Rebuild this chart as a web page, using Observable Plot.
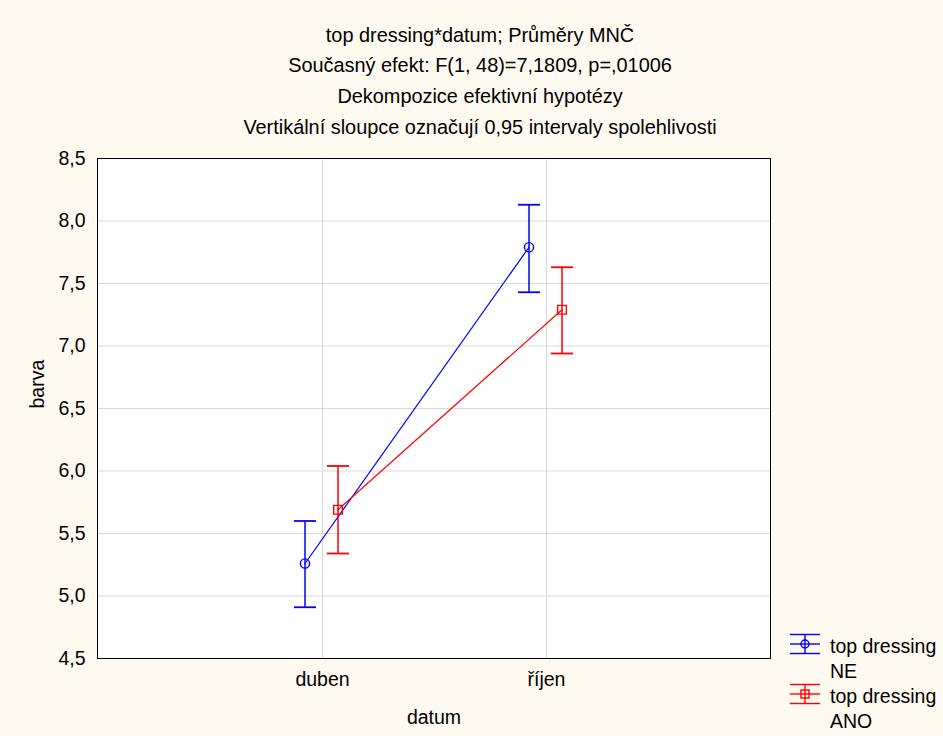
<!DOCTYPE html>
<html>
<head>
<meta charset="utf-8">
<script src="https://cdn.jsdelivr.net/npm/d3@7"></script>
<script src="https://cdn.jsdelivr.net/npm/@observablehq/plot@0.6"></script>
<style>
  html, body { margin: 0; padding: 0; background: #fefaf0; }
  #chart { width: 943px; height: 736px; }
</style>
</head>
<body>
<div id="chart"></div>
<script>
// ---- data ----
const titleLines = [
  "top dressing*datum; Průměry MNČ",
  "Současný efekt: F(1, 48)=7,1809, p=,01006",
  "Dekompozice efektivní hypotézy",
  "Vertikální sloupce označují 0,95 intervaly spolehlivosti"
];
const datum = ["duben", "říjen"];
const seriesNames = ["NE", "ANO"];
const seriesColors = ["#0000ff", "#ff0000"];
const meansNE = [5.26, 7.79];
const lowNE = [4.91, 7.43];
const highNE = [5.60, 8.13];
const meansANO = [5.69, 7.29];
const lowANO = [5.34, 6.94];
const highANO = [6.04, 7.63];
const yTicks = [4.5, 5.0, 5.5, 6.0, 6.5, 7.0, 7.5, 8.0, 8.5];
const yLabel = "barva";
const xLabel = "datum";
const legendTitle = "top dressing";

// ---- build rows ----
function rows(name, means, lows, highs) {
  return datum.map((d, i) => ({datum: d, series: name, mean: means[i], lo: lows[i], hi: highs[i]}));
}
const dataNE = rows("NE", meansNE, lowNE, highNE);
const dataANO = rows("ANO", meansANO, lowANO, highANO);

// horizontal cap symbol (half-width = r)
const cap = {
  draw(context, size) {
    const w = Math.sqrt(size / Math.PI);
    context.moveTo(-w, 0);
    context.lineTo(w, 0);
  }
};

function seriesMarks(data, color, dx, symbol, r) {
  return [
    Plot.line(data, {x: "datum", y: "mean", stroke: color, strokeWidth: 1.2, dx}),
    Plot.ruleX(data, {x: "datum", y1: "lo", y2: "hi", stroke: color, strokeWidth: 1.5, dx}),
    Plot.dot(data, {x: "datum", y: "lo", symbol: cap, r: 11, stroke: color, strokeWidth: 1.8, fill: "none", dx}),
    Plot.dot(data, {x: "datum", y: "hi", symbol: cap, r: 11, stroke: color, strokeWidth: 1.8, fill: "none", dx}),
    Plot.dot(data, {x: "datum", y: "mean", symbol, r, stroke: color, strokeWidth: 1.4, fill: "none", dx})
  ];
}

const fmt = d => d.toFixed(1).replace(".", ",");

const plot = Plot.plot({
  width: 943,
  height: 736,
  marginLeft: 97,
  marginRight: 173,
  marginTop: 158,
  marginBottom: 78,
  style: {
    fontFamily: "'Liberation Sans', Arial, sans-serif",
    fontSize: "19.5px",
    background: "#fefaf0",
    color: "#000",
    overflow: "visible"
  },
  x: {type: "point", domain: datum, padding: 1},
  y: {domain: [4.5, 8.5]},
  marks: [
    Plot.frame({fill: "white", stroke: "none"}),
    Plot.gridY(yTicks, {stroke: "#d9d9d9", strokeOpacity: 1, strokeWidth: 1}),
    Plot.gridX(datum, {stroke: "#d9d9d9", strokeOpacity: 1, strokeWidth: 1}),
    Plot.axisY(yTicks, {tickFormat: fmt, tickSize: 0, tickPadding: 12, label: null}),
    Plot.axisX({tickSize: 0, tickPadding: 14, label: null}),
    Plot.frame({stroke: "black", strokeWidth: 1}),
    ...seriesMarks(dataNE, seriesColors[0], -17.5, "circle", 4.6),
    ...seriesMarks(dataANO, seriesColors[1], 15.5, "square", 4.9),
    Plot.text([titleLines.join("\n")], {frameAnchor: "top", dx: 46, dy: -25, lineAnchor: "bottom", lineHeight: 1.54, fontSize: 19.9, fill: "black"}),
    Plot.text([yLabel], {frameAnchor: "left", dx: -60, rotate: -90, fill: "black"}),
    Plot.text([xLabel], {frameAnchor: "bottom", dy: 65, lineAnchor: "bottom", fill: "black"})
  ]
});

document.getElementById("chart").appendChild(plot);

// ---- legend (bottom right, outside plot frame) ----
const svg = d3.select(plot);
const lg = svg.append("g").attr("class", "legend").attr("text-anchor", "start");
seriesNames.forEach((name, i) => {
  const cy = 644 + i * 50;
  const cx = 805;
  const col = seriesColors[i];
  const g = lg.append("g").attr("stroke", col).attr("fill", "none").attr("stroke-width", 1.4);
  g.append("line").attr("x1", cx - 15).attr("x2", cx + 15).attr("y1", cy - 9.5).attr("y2", cy - 9.5);
  g.append("line").attr("x1", cx - 15).attr("x2", cx + 15).attr("y1", cy + 9.5).attr("y2", cy + 9.5);
  g.append("line").attr("x1", cx - 15).attr("x2", cx + 15).attr("y1", cy).attr("y2", cy);
  g.append("line").attr("x1", cx).attr("x2", cx).attr("y1", cy - 9.5).attr("y2", cy + 9.5);
  if (i === 0) g.append("circle").attr("cx", cx).attr("cy", cy).attr("r", 4);
  else g.append("rect").attr("x", cx - 4).attr("y", cy - 4).attr("width", 8).attr("height", 8);
  const t = lg.append("text").attr("x", 830).attr("y", cy + 9).attr("fill", "black").attr("text-anchor", "start");
  t.append("tspan").attr("x", 830).text(legendTitle);
  t.append("tspan").attr("x", 830).attr("dy", 24.5).text(name);
});
</script>
</body>
</html>
